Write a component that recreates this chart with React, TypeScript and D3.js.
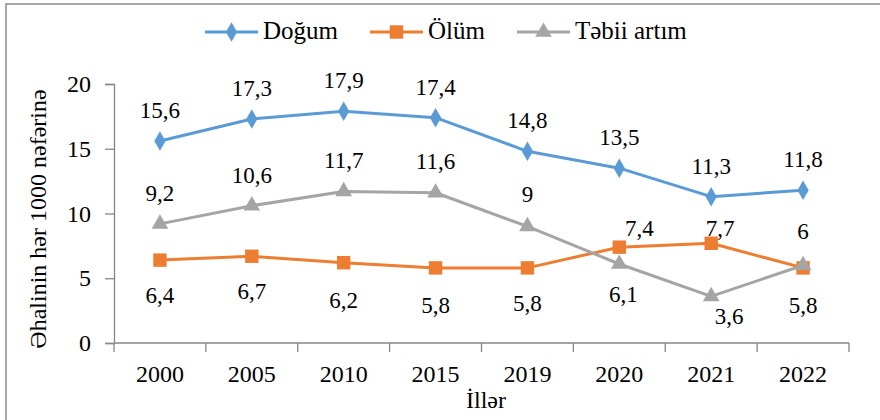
import { axisBottom, axisLeft, line, scaleBand, scaleLinear, select, symbol, symbolDiamond, symbolSquare, symbolTriangle } from 'd3';
import React, { useEffect, useRef } from 'react';

const years = ['2000', '2005', '2010', '2015', '2019', '2020', '2021', '2022'];
const birth = [15.6, 17.3, 17.9, 17.4, 14.8, 13.5, 11.3, 11.8];
const death = [6.4, 6.7, 6.2, 5.8, 5.8, 7.4, 7.7, 5.8];
const natural = [9.2, 10.6, 11.7, 11.6, 9, 6.1, 3.6, 6];
const yTicks = [0, 5, 10, 15, 20];

// label offsets from the marker (px), the way they were placed in the original
const birthOffsets = years.map(() => [0, -31]);
const deathOffsets = [[0, 35], [0, 35], [0, 37], [0, 37], [0, 35], [20, -19], [9, -15], [0, 37]];
const naturalOffsets = [[0, -31], [0, -31], [0, -31], [0, -32], [0, -32], [4, 30], [18, 20], [0, -34]];

const W = 880;
const H = 420;
const font = "'Times New Roman', Tinos, 'Liberation Serif', 'Noto Serif', 'DejaVu Serif', serif";
const axisColor = '#868686';

const series = [
  { name: 'Doğum', values: birth, color: '#5B9BD5', shape: symbolDiamond, size: 110, offsets: birthOffsets },
  { name: 'Ölüm', values: death, color: '#ED7D31', shape: symbolSquare, size: 180, offsets: deathOffsets },
  { name: 'Təbii artım', values: natural, color: '#A5A5A5', shape: symbolTriangle, size: 120, offsets: naturalOffsets },
];

const App: React.FC = () => {
  const svgRef = useRef<SVGSVGElement>(null);

  useEffect(() => {
    const svg = select(svgRef.current);
    svg.selectAll('*').remove();

    const xScale = scaleBand<string>().domain(years).range([114, 849]);
    const yScale = scaleLinear().domain([0, 20]).range([343, 84]);
    const cx = (i: number) => (xScale(years[i]) as number) + xScale.bandwidth() / 2;

    // outer frame
    svg
      .append('rect')
      .attr('x', 6)
      .attr('y', 4)
      .attr('width', W)
      .attr('height', H)
      .attr('fill', 'white')
      .attr('stroke', '#898989')
      .attr('stroke-width', 1.5);

    // axes
    const yAxis = axisLeft(yScale).tickValues(yTicks).tickSize(9).tickPadding(14);
    const gy = svg.append('g').attr('transform', 'translate(114,0)').call(yAxis);
    const xAxis = axisBottom(xScale).tickSize(0).tickPadding(22);
    const gx = svg.append('g').attr('transform', 'translate(0,343)').call(xAxis);
    [gx, gy].forEach((g) => {
      g.attr('font-family', null);
      g.select('.domain').attr('stroke', axisColor).attr('stroke-width', 1.3);
      g.selectAll('line').attr('stroke', axisColor).attr('stroke-width', 1.3);
      g.selectAll('text').style('font-size', '24px').attr('fill', '#000');
    });
    gx.select('.domain').attr('d', 'M114,0H849');
    // category boundary ticks
    gx.selectAll('.bound')
      .data([...years.map((y) => xScale(y) as number), 849])
      .join('line')
      .attr('class', 'bound')
      .attr('x1', (d) => d)
      .attr('x2', (d) => d)
      .attr('y1', 0)
      .attr('y2', 9)
      .attr('stroke', axisColor)
      .attr('stroke-width', 1.3);

    // axis titles
    svg
      .append('text')
      .attr('transform', 'translate(46,219) rotate(-90)')
      .attr('text-anchor', 'middle')
      .style('font-size', '24px')
      .text('Əhalinin hər 1000 nəfərinə');
    svg
      .append('text')
      .attr('x', 486)
      .attr('y', 408)
      .attr('text-anchor', 'middle')
      .style('font-size', '24px')
      .text('İllər');

    // lines, markers, labels
    const pathGen = line<number>()
      .x((_, i) => cx(i))
      .y((d) => yScale(d));

    series.forEach((s) => {
      const g = svg.append('g');
      g.append('path')
        .attr('d', pathGen(s.values))
        .attr('fill', 'none')
        .attr('stroke', s.color)
        .attr('stroke-width', 3)
        .attr('stroke-linejoin', 'round');
      g.selectAll('.mark')
        .data(s.values)
        .join('path')
        .attr('class', 'mark')
        .attr('transform', (d, i) => `translate(${cx(i)},${yScale(d)})`)
        .attr('d', symbol(s.shape, s.size)())
        .attr('fill', s.color);
    });

    series.forEach((s) => {
      svg
        .append('g')
        .selectAll('text')
        .data(s.values)
        .join('text')
        .attr('x', (d, i) => cx(i) + s.offsets[i][0])
        .attr('y', (d, i) => yScale(d) + s.offsets[i][1] + 8)
        .attr('text-anchor', 'middle')
        .style('font-size', '23px')
        .attr('fill', '#000')
        .text((d) => String(d).replace('.', ','));
    });

    // legend
    const legendX = [205, 370, 517];
    series.forEach((s, i) => {
      const g = svg.append('g').attr('transform', `translate(${legendX[i]},32)`);
      g.append('line').attr('x1', 0).attr('x2', 53).attr('stroke', s.color).attr('stroke-width', 3);
      g.append('path')
        .attr('transform', 'translate(26.5,0)')
        .attr('d', symbol(s.shape, s.size)())
        .attr('fill', s.color);
      g.append('text')
        .attr('x', 58)
        .attr('y', 7)
        .style('font-size', '25px')
        .attr('fill', '#000')
        .text(s.name);
    });
  }, []);

  return (
    <svg
      ref={svgRef}
      width={W}
      height={H}
      style={{ position: 'absolute', left: 0, top: 0, display: 'block', fontFamily: font }}
    />
  );
};

export default App;
